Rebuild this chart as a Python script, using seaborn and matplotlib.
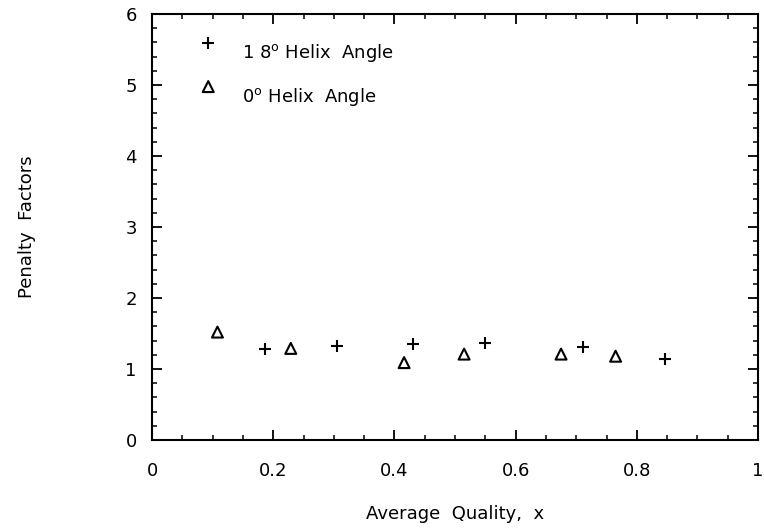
import matplotlib
matplotlib.use("Agg")
import matplotlib.pyplot as plt
from matplotlib.ticker import MultipleLocator
import seaborn as sns
import pandas as pd

# Penalty factors versus average quality for two helix angles
quality_18 = [0.187, 0.305, 0.430, 0.550, 0.712, 0.847]
penalty_18 = [1.28, 1.33, 1.35, 1.37, 1.31, 1.14]
quality_0 = [0.108, 0.229, 0.416, 0.515, 0.675, 0.765]
penalty_0 = [1.52, 1.29, 1.09, 1.21, 1.21, 1.18]

label_18 = "1 8$^{\\mathregular{o}}$ Helix  Angle"
label_0 = "0$^{\\mathregular{o}}$ Helix  Angle"

x_ticks = [0, 0.2, 0.4, 0.6, 0.8, 1]
x_tick_labels = ["0", "0.2", "0.4", "0.6", "0.8", "1"]
y_ticks = [0, 1, 2, 3, 4, 5, 6]
y_tick_labels = ["0", "1", "2", "3", "4", "5", "6"]

sns.set_theme(style="ticks")
plt.rcParams["font.family"] = ["DejaVu Sans"]
plt.rcParams["mathtext.fontset"] = "dejavusans"
plt.rcParams["text.color"] = "black"
plt.rcParams["axes.labelcolor"] = "black"
plt.rcParams["xtick.color"] = "black"
plt.rcParams["ytick.color"] = "black"

FS = 13

df18 = pd.DataFrame({"x": quality_18, "y": penalty_18})
df0 = pd.DataFrame({"x": quality_0, "y": penalty_0})

fig = plt.figure(figsize=(7.64, 5.31), dpi=100)
ax = fig.add_axes([152 / 764, 91 / 531, 606 / 764, 426 / 531])

sns.scatterplot(data=df18, x="x", y="y", marker="+", s=72, color="black",
                linewidth=1.5, ax=ax, label=label_18)
sns.scatterplot(data=df0, x="x", y="y", marker="^", s=62, facecolor="none",
                edgecolor="black", linewidth=1.5, ax=ax, label=label_0)

ax.set_xlim(0, 1)
ax.set_ylim(0, 6)
ax.set_xticks(x_ticks)
ax.set_xticklabels(x_tick_labels)
ax.set_yticks(y_ticks)
ax.set_yticklabels(y_tick_labels)
ax.xaxis.set_minor_locator(MultipleLocator(0.05))
ax.yaxis.set_minor_locator(MultipleLocator(0.2))
ax.tick_params(which="both", direction="in", top=True, right=True,
               colors="black", labelcolor="black", labelsize=FS)
ax.tick_params(which="major", length=7, width=1.3)
ax.tick_params(axis="x", which="major", pad=16)
ax.tick_params(axis="y", which="major", pad=11)
ax.tick_params(which="minor", length=3.5, width=1.1)
for side in ax.spines.values():
    side.set_linewidth(1.5)
    side.set_color("black")

ax.set_xlabel("Average  Quality,  x", fontsize=FS, color="black")
ax.set_ylabel("Penalty  Factors", fontsize=FS, color="black")
ax.xaxis.set_label_coords(0.5, -65 / 426)
ax.yaxis.set_label_coords(-116 / 606, 0.5)

leg = ax.legend(loc="upper left", frameon=False, fontsize=FS,
                handlelength=1.0, handletextpad=1.38, labelspacing=1.2,
                borderaxespad=0, bbox_to_anchor=(0.066, 0.951),
                scatteryoffsets=[1.2], labelcolor="black")

fig.savefig("out.png", dpi=100)
